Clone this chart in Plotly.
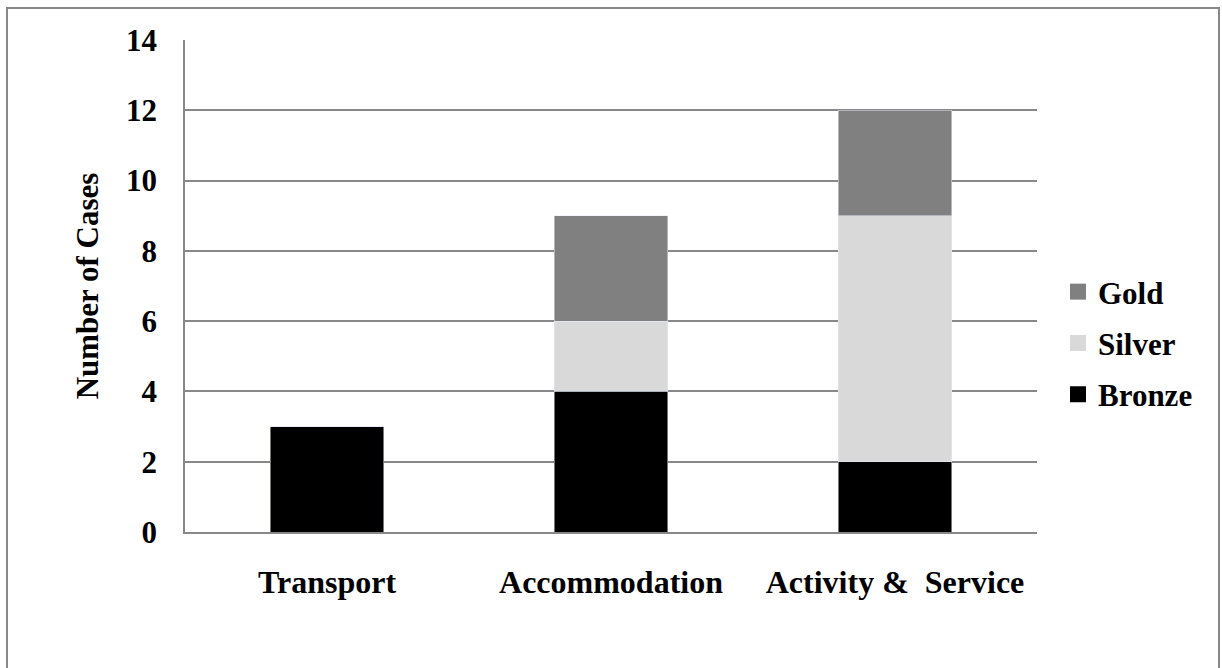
import plotly.graph_objects as go

categories = ["Transport", "Accommodation", "Activity &  Service"]
bronze = [3, 4, 2]
silver = [0, 2, 7]
gold = [0, 3, 3]
y_ticks = [0, 2, 4, 6, 8, 10, 12, 14]
colors = {"Bronze": "#000000", "Silver": "#D9D9D9", "Gold": "#808080"}

FONT = "Liberation Serif"
FS = 31
FSX = 32
fig = go.Figure()
for name, vals in [("Bronze", bronze), ("Silver", silver), ("Gold", gold)]:
    fig.add_trace(go.Bar(name=name, x=categories, y=vals, marker_color=colors[name],
                         showlegend=False, legendgroup=name))
# legend-only entries with larger square swatches
for rank, name in [(1, "Gold"), (2, "Silver"), (3, "Bronze")]:
    fig.add_trace(go.Scatter(name=name, x=[None], y=[None], mode="markers",
                             marker=dict(symbol="square", size=16, color=colors[name]),
                             legendgroup=name, legendrank=rank, showlegend=True))

W, H = 1222, 668
L, T = 185, 40
R, B = 185, 136
pw, ph = W - L - R, H - T - B

def px_x(x):
    return (x - L) / pw

def px_y(y):
    return (H - B - y) / ph

fig.update_layout(
    width=W, height=H,
    barmode="stack", bargap=0.6,
    paper_bgcolor="white", plot_bgcolor="white",
    margin=dict(l=L, r=R, t=T, b=B),
    font=dict(family=FONT, size=FS, color="black"),
    showlegend=True,
    legend=dict(x=px_x(1058), y=px_y(343), xanchor="left", yanchor="middle",
                traceorder="grouped", tracegroupgap=8,
                font=dict(family=FONT, size=FS, color="black", weight="bold"),
                itemwidth=30),
    xaxis=dict(showgrid=False, showline=True, linecolor="#888888", linewidth=1.5,
               ticks="outside", ticklen=21, tickcolor="rgba(0,0,0,0)",
               tickfont=dict(family=FONT, size=FSX, color="black", weight="bold")),
    yaxis=dict(range=[0, 14], tickvals=y_ticks, showgrid=True, gridcolor="#888888", gridwidth=1.5,
               showline=True, linecolor="#888888", linewidth=1.5, zeroline=False,
               ticks="outside", ticklen=20, tickcolor="rgba(0,0,0,0)",
               tickfont=dict(family=FONT, size=FS, color="black", weight="bold"),
               title=dict(text="Number of Cases", standoff=18,
                          font=dict(family=FONT, size=FS, color="black", weight="bold"))),
    shapes=[dict(type="rect", xref="paper", yref="paper",
                 x0=px_x(7), x1=px_x(1219),
                 y0=px_y(690), y1=px_y(8),
                 line=dict(color="#888888", width=2), fillcolor="rgba(0,0,0,0)", layer="below")],
)
fig.write_html("out.html", config={"displayModeBar": False},
               post_script="document.body.style.margin='0';document.body.style.overflow='hidden';")
